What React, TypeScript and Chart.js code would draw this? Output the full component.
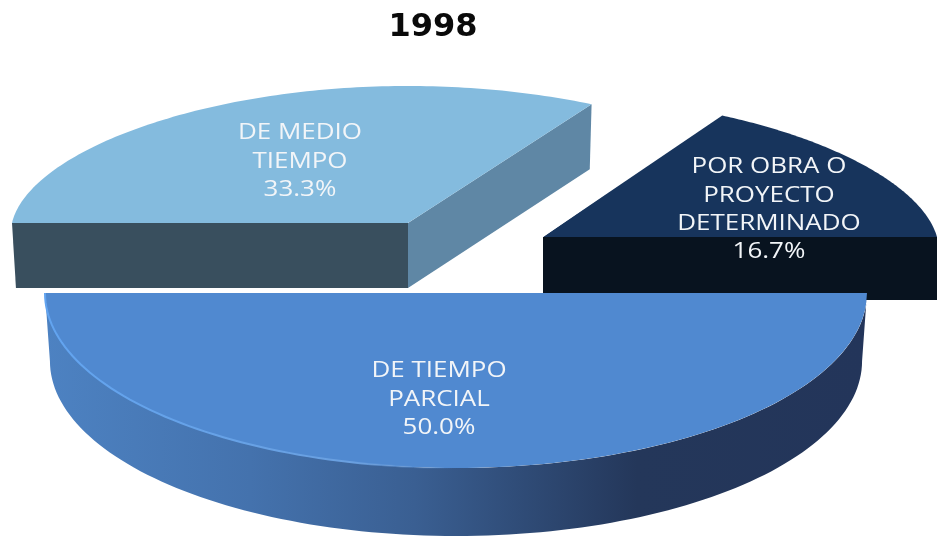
import React, { useEffect, useRef } from "react";
import { Chart, registerables } from "chart.js";

Chart.register(...registerables);

const chartTitle = "1998";
const categories = ["DE TIEMPO PARCIAL", "DE MEDIO TIEMPO", "POR OBRA O PROYECTO DETERMINADO"];
const shares = [50.0, 33.3, 16.7];
const labelLines = [
  ["DE TIEMPO", "PARCIAL"],
  ["DE MEDIO", "TIEMPO"],
  ["POR OBRA O", "PROYECTO", "DETERMINADO"],
];
const topColors = ["#5089d0", "#84bbde", "#17345c"];

// How each exploded slice is laid out in perspective (not data).
const sliceViews = [
  { cx: 456, cy: 293, rx: 411, ry: 175, persp: 0, skew: 0, depth: 68, taper: 0.988, labelX: 439, labelY: 371 },
  { cx: 408, cy: 223, rx: 396, ry: 137, persp: 0.08, skew: 0, depth: 65, taper: 0.99, labelX: 300, labelY: 133 },
  { cx: 543, cy: 237, rx: 394, ry: 140, persp: 0.1, skew: 0.17, depth: 63, taper: 1, labelX: 769, labelY: 167 },
];
const drawOrder = [1, 2, 0];

function project(v: any, angle: number) {
  const c = Math.cos(angle);
  const s = Math.sin(angle);
  return { x: v.cx + v.rx * c * (1 + v.persp * s), y: v.cy + v.ry * s };
}
function drop(v: any, p: { x: number; y: number }) {
  return { x: v.cx + (p.x - v.cx) * v.taper, y: p.y + v.depth };
}
function fillQuad(ctx: CanvasRenderingContext2D, v: any, a: any, b: any, color: string) {
  const a2 = drop(v, a);
  const b2 = drop(v, b);
  ctx.beginPath();
  ctx.moveTo(a.x, a.y);
  ctx.lineTo(b.x, b.y);
  ctx.lineTo(b2.x, b2.y);
  ctx.lineTo(a2.x, a2.y);
  ctx.closePath();
  ctx.fillStyle = color;
  ctx.fill();
}

const slicesPlugin = {
  id: "slices3d",
  beforeDatasetDraw(chart: any) {
    const ctx: CanvasRenderingContext2D = chart.ctx;
    const arcs = chart.getDatasetMeta(0).data;
    for (const i of drawOrder) {
      const arc = arcs[i];
      const v = sliceViews[i];
      const R = arc.outerRadius;
      const centre = { x: v.cx, y: v.cy };
      const span = arc.endAngle - arc.startAngle;
      const steps = 120;
      if (i === 0) {
        const left = project(v, arc.endAngle);
        const right = project(v, arc.startAngle);
        const g = ctx.createLinearGradient(left.x, 0, right.x, 0);
        g.addColorStop(0, "#4d82c2");
        g.addColorStop(0.25, "#4472ad");
        g.addColorStop(0.45, "#3a5f92");
        g.addColorStop(0.72, "#24375a");
        g.addColorStop(1, "#23355a");
        ctx.beginPath();
        for (let k = 0; k <= steps; k++) {
          const p = project(v, arc.startAngle + (span * k) / steps);
          if (k === 0) ctx.moveTo(p.x, p.y);
          else ctx.lineTo(p.x, p.y);
        }
        for (let k = steps; k >= 0; k--) {
          const p = drop(v, project(v, arc.startAngle + (span * k) / steps));
          ctx.lineTo(p.x, p.y);
        }
        ctx.closePath();
        ctx.fillStyle = g;
        ctx.fill();
      } else if (i === 1) {
        fillQuad(ctx, v, project(v, arc.endAngle), centre, "#5f87a5");
        fillQuad(ctx, v, project(v, arc.startAngle), centre, "#394f5e");
      } else {
        fillQuad(ctx, v, project(v, arc.endAngle), centre, "#08131f");
      }
      // The library's arc, squashed to an ellipse and trimmed to the perspective outline.
      ctx.save();
      ctx.beginPath();
      ctx.moveTo(v.cx, v.cy);
      for (let k = 0; k <= steps; k++) {
        const p = project(v, arc.startAngle + (span * k) / steps);
        ctx.lineTo(p.x, p.y);
      }
      ctx.closePath();
      ctx.clip();
      const grow = v.persp ? 1.05 : 1;
      ctx.translate(v.cx, v.cy);
      ctx.transform((v.rx * grow) / R, 0, (v.skew * v.ry * grow) / R, (v.ry * grow) / R, 0, 0);
      ctx.translate(-arc.x, -arc.y);
      arc.draw(ctx);
      ctx.restore();
      if (i === 0) {
        const left = project(v, arc.endAngle);
        const mid = project(v, (arc.startAngle + arc.endAngle) / 2);
        const g = ctx.createLinearGradient(left.x, 0, mid.x, 0);
        g.addColorStop(0, "#62a4f0");
        g.addColorStop(0.75, "#6aa0e0");
        g.addColorStop(1, "rgba(80,137,208,0)");
        ctx.beginPath();
        for (let k = 0; k <= 60; k++) {
          const p = project(v, arc.endAngle - (span * k) / 120);
          if (k === 0) ctx.moveTo(p.x, p.y);
          else ctx.lineTo(p.x, p.y);
        }
        ctx.strokeStyle = g;
        ctx.lineWidth = 2;
        ctx.stroke();
      }
    }
    ctx.save();
    ctx.fillStyle = "#f2f5f8";
    ctx.textAlign = "center";
    ctx.textBaseline = "middle";
    ctx.font = "22px 'Open Sans'";
    sliceViews.forEach((v, i) => {
      const lines = [...labelLines[i], shares[i].toFixed(1) + "%"];
      lines.forEach((line, n) => {
        ctx.save();
        ctx.translate(v.labelX, v.labelY + n * 28.3);
        ctx.scale(1.18, 1);
        ctx.fillText(line, 0, 0);
        ctx.restore();
      });
    });
    ctx.restore();
    return false;
  },
};

export default function App() {
  const ref = useRef<HTMLCanvasElement | null>(null);
  useEffect(() => {
    if (!ref.current) return;
    const chart = new Chart(ref.current, {
      type: "pie",
      data: {
        labels: categories,
        datasets: [{ data: shares, backgroundColor: topColors, borderWidth: 0 }],
      },
      options: {
        responsive: false,
        animation: false,
        rotation: 90,
        layout: { padding: { right: 72 } },
        plugins: {
          legend: { display: false },
          tooltip: { enabled: false },
          title: {
            display: true,
            text: chartTitle,
            color: "#0a0a0a",
            font: { family: "'DejaVu Sans'", size: 32, weight: "bold" },
            padding: { top: 8, bottom: 10 },
          },
        },
      },
      plugins: [slicesPlugin],
    } as any);
    return () => chart.destroy();
  }, []);
  return (
    <div style={{ position: "absolute", left: 0, top: 0, width: 938, height: 537, background: "#fff", overflow: "hidden" }}>
      <canvas ref={ref} width={938} height={537} style={{ display: "block", filter: "blur(0.5px)" }} />
    </div>
  );
}
